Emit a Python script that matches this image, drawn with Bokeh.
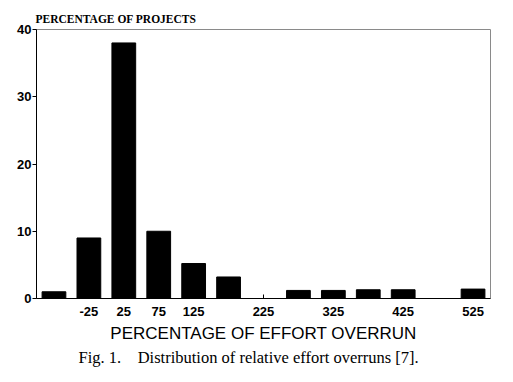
from bokeh.plotting import figure
from bokeh.models import FixedTicker, Title, Range1d
from bokeh.embed import file_html
from bokeh.resources import INLINE

# Data
bin_centers = [-75, -25, 25, 75, 125, 175, 275, 325, 375, 425, 525]
percentages = [1.0, 9.0, 38.0, 10.0, 5.2, 3.2, 1.2, 1.2, 1.3, 1.3, 1.4]
x_tick_values = [-25, 25, 75, 125, 225, 325, 425, 525]
y_tick_values = [0, 10, 20, 30, 40]
y_title = "PERCENTAGE OF PROJECTS"
x_title = "PERCENTAGE OF EFFORT OVERRUN"
caption = "Fig. 1.\u00a0\u00a0\u00a0\u00a0Distribution of relative effort overruns [7]."

p = figure(width=505, height=374, output_backend="svg", toolbar_location=None,
           x_range=Range1d(-100, 550), y_range=Range1d(0, 40),
           min_border_left=36, min_border_right=15, min_border_top=29, min_border_bottom=76)

p.vbar(x=bin_centers, top=percentages, width=34, bottom=0,
       fill_color="black", line_color="black")

p.grid.visible = False
p.outline_line_color = "#8a8a8a"
p.outline_line_width = 1

xa = p.xaxis[0]
xa.ticker = FixedTicker(ticks=x_tick_values)
xa.major_label_overrides = {v: str(v) for v in x_tick_values}
xa.major_tick_in = 4
xa.major_tick_out = 0
xa.minor_tick_line_color = None
xa.axis_line_color = "black"
xa.major_label_text_font = "Liberation Sans"
xa.major_label_text_font_style = "bold"
xa.major_label_text_font_size = "13px"
xa.major_label_text_color = "black"
xa.major_label_standoff = 8
xa.axis_label = x_title
xa.axis_label_text_font = "Liberation Sans"
xa.axis_label_text_font_style = "normal"
xa.axis_label_text_font_size = "17px"
xa.axis_label_text_color = "black"
xa.axis_label_standoff = 5

ya = p.yaxis[0]
ya.ticker = FixedTicker(ticks=y_tick_values)
ya.major_tick_in = 0
ya.major_tick_out = 4
ya.minor_tick_line_color = None
ya.axis_line_color = "black"
ya.major_label_text_font = "Liberation Sans"
ya.major_label_text_font_style = "bold"
ya.major_label_text_font_size = "13px"
ya.major_label_text_color = "black"
ya.major_label_standoff = 1

p.add_layout(Title(text=y_title, text_font="Liberation Serif", text_font_size="11.5px",
                   text_font_style="bold", text_color="black", align="left",
                   offset=-1, standoff=9), "above")
p.add_layout(Title(text=caption, text_font="Liberation Serif", text_font_size="16.5px",
                   text_font_style="normal", text_color="black", align="left",
                   offset=42, standoff=0), "below")

open("out.html", "w").write(file_html(p, INLINE))
